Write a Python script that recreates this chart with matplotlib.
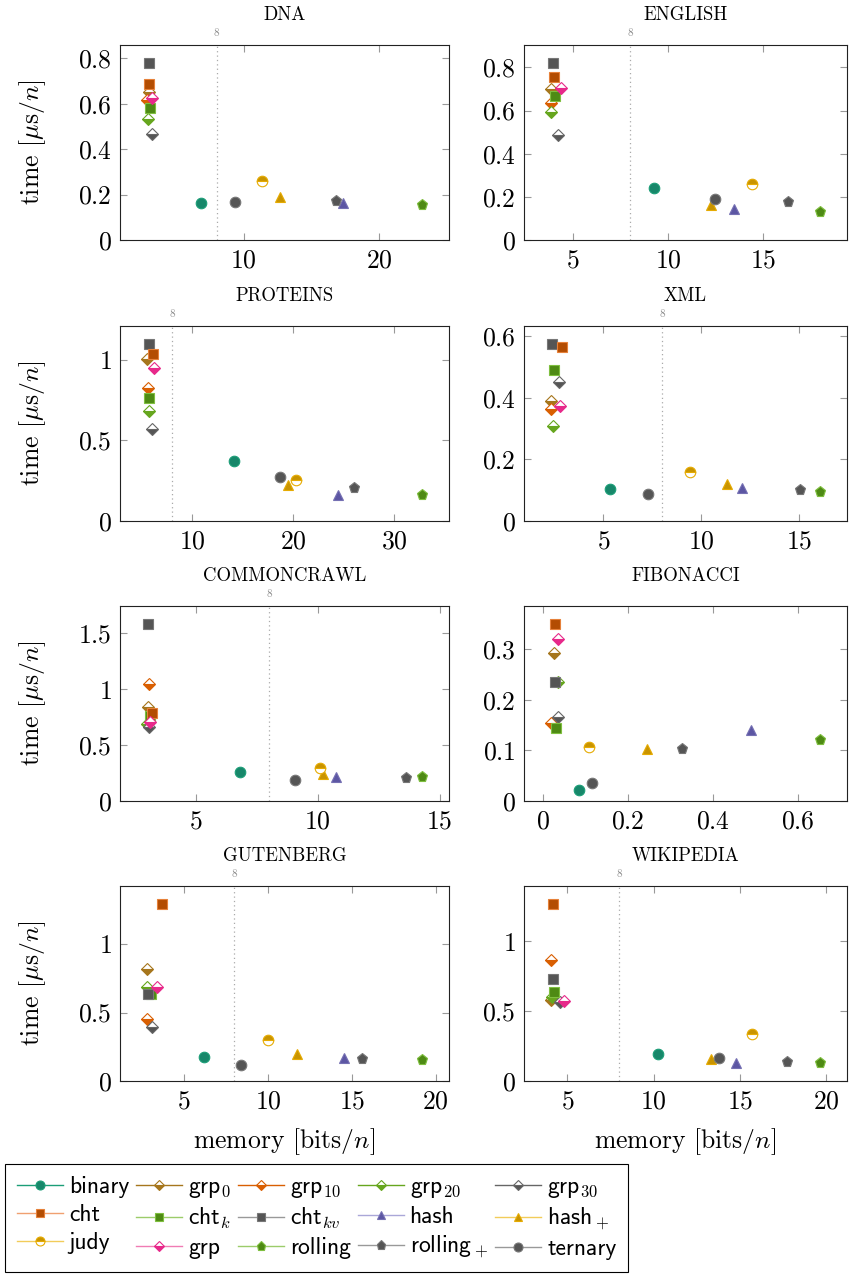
import matplotlib
matplotlib.use("Agg")
import matplotlib.pyplot as plt
from matplotlib.lines import Line2D
from matplotlib.ticker import MultipleLocator, FuncFormatter
import matplotlib.transforms as mtransforms

plt.rcParams["mathtext.fontset"] = "cm"
plt.rcParams["font.family"] = "cmr10"
plt.rcParams["axes.formatter.use_mathtext"] = True

# series order is the same for every dataset below
SERIES = ["binary", "grp0", "grp10", "grp20", "grp30",
          "cht", "chtk", "chtkv", "hash", "hash+",
          "judy", "grp", "rolling", "rolling+", "ternary"]
LABELS = ["binary", "grp$_0$", "grp$_{10}$", "grp$_{20}$", "grp$_{30}$",
          "cht", "cht$_k$", "cht$_{kv}$", "hash", "hash$_+$",
          "judy", "grp", "rolling", "rolling$_+$", "ternary"]

DATASETS = ["DNA", "ENGLISH", "PROTEINS", "XML",
            "COMMONCRAWL", "FIBONACCI", "GUTENBERG", "WIKIPEDIA"]

# memory [bits/n] and time [us/n], one value per series
DNA_X = [6.86, 2.98, 2.88, 2.94, 3.19, 3.01, 3.06, 3.01, 17.35, 12.65, 11.32, 3.20, 23.14, 16.81, 9.36]
DNA_Y = [0.164, 0.650, 0.615, 0.531, 0.465, 0.687, 0.581, 0.781, 0.164, 0.191, 0.258, 0.627, 0.153, 0.170, 0.167]

ENGLISH_X = [9.26, 3.84, 3.84, 3.87, 4.21, 4.01, 4.04, 3.96, 13.48, 12.26, 14.38, 4.38, 17.98, 16.30, 12.45]
ENGLISH_Y = [0.242, 0.700, 0.633, 0.593, 0.485, 0.758, 0.667, 0.822, 0.144, 0.161, 0.261, 0.706, 0.130, 0.178, 0.190]

PROTEINS_X = [14.09, 5.58, 5.68, 5.74, 6.07, 6.17, 5.78, 5.78, 24.44, 19.49, 20.31, 6.24, 32.68, 26.01, 18.67]
PROTEINS_Y = [0.370, 1.004, 0.822, 0.680, 0.568, 1.037, 0.762, 1.099, 0.159, 0.225, 0.252, 0.950, 0.163, 0.202, 0.273]

XML_X = [5.35, 2.33, 2.33, 2.45, 2.72, 2.92, 2.50, 2.38, 12.05, 11.30, 9.40, 2.78, 16.05, 15.05, 7.30]
XML_Y = [0.104, 0.390, 0.363, 0.308, 0.452, 0.566, 0.490, 0.575, 0.107, 0.120, 0.159, 0.373, 0.094, 0.100, 0.088]

COMMONCRAWL_X = [6.80, 3.02, 3.05, 3.00, 3.07, 3.18, 3.10, 3.02, 10.74, 10.20, 10.08, 3.09, 14.26, 13.60, 9.06]
COMMONCRAWL_Y = [0.260, 0.845, 1.045, 0.690, 0.663, 0.790, 0.760, 1.587, 0.214, 0.240, 0.295, 0.708, 0.214, 0.205, 0.190]

FIBONACCI_X = [0.085, 0.027, 0.019, 0.036, 0.036, 0.029, 0.030, 0.029, 0.491, 0.245, 0.108, 0.036, 0.653, 0.327, 0.115]
FIBONACCI_Y = [0.021, 0.293, 0.155, 0.236, 0.167, 0.351, 0.145, 0.236, 0.140, 0.102, 0.106, 0.321, 0.120, 0.102, 0.035]

GUTENBERG_X = [6.18, 2.81, 2.81, 2.81, 3.09, 3.67, 3.01, 2.87, 14.50, 11.75, 10.00, 3.37, 19.15, 15.60, 8.38]
GUTENBERG_Y = [0.174, 0.821, 0.449, 0.686, 0.392, 1.294, 0.637, 0.632, 0.170, 0.200, 0.300, 0.686, 0.150, 0.160, 0.118]

WIKIPEDIA_X = [10.24, 4.05, 4.05, 4.10, 4.58, 4.16, 4.20, 4.15, 14.80, 13.30, 15.70, 4.83, 19.65, 17.76, 13.77]
WIKIPEDIA_Y = [0.190, 0.579, 0.864, 0.600, 0.567, 1.269, 0.638, 0.729, 0.126, 0.155, 0.333, 0.571, 0.126, 0.133, 0.162]

DATA = {
    "DNA": (DNA_X, DNA_Y),
    "ENGLISH": (ENGLISH_X, ENGLISH_Y),
    "PROTEINS": (PROTEINS_X, PROTEINS_Y),
    "XML": (XML_X, XML_Y),
    "COMMONCRAWL": (COMMONCRAWL_X, COMMONCRAWL_Y),
    "FIBONACCI": (FIBONACCI_X, FIBONACCI_Y),
    "GUTENBERG": (GUTENBERG_X, GUTENBERG_Y),
    "WIKIPEDIA": (WIKIPEDIA_X, WIKIPEDIA_Y),
}

# tick steps (x, y) per panel
STEPS = {
    "DNA": (10, 0.2), "ENGLISH": (5, 0.2), "PROTEINS": (10, 0.5), "XML": (5, 0.2),
    "COMMONCRAWL": (5, 0.5), "FIBONACCI": (0.2, 0.1), "GUTENBERG": (5, 0.5), "WIKIPEDIA": (5, 0.5),
}

# marker, fillstyle, face, edge, legend line colour, size
STYLE = {
    "binary":   ("o", "full",   "#17876a", "#1b9e77", "#1b9e77", 7.6),
    "grp0":     ("D", "bottom", "#a6761d", "#a6761d", "#a6761d", 6.0),
    "grp10":    ("D", "bottom", "#d95f02", "#d95f02", "#d95f02", 6.0),
    "grp20":    ("D", "bottom", "#66a61e", "#66a61e", "#66a61e", 6.0),
    "grp30":    ("D", "bottom", "#555555", "#666666", "#666666", 6.0),
    "cht":      ("s", "full",   "#b34d02", "#e6813a", "#f0a070", 7.6),
    "chtk":     ("s", "full",   "#4e8a14", "#7fbf3f", "#9ccc6a", 7.6),
    "chtkv":    ("s", "full",   "#555555", "#777777", "#999999", 7.6),
    "hash":     ("^", "full",   "#5c56a3", "#7570b3", "#aaa7d8", 7.0),
    "hash+":    ("^", "full",   "#c99400", "#e6ab02", "#f2cc5a", 7.0),
    "judy":     ("o", "top",    "#c99400", "#e6ab02", "#f2cc5a", 7.6),
    "grp":      ("D", "bottom", "#e7298a", "#e7298a", "#f07cb4", 6.0),
    "rolling":  ("p", "full",   "#4e8a14", "#7fbf3f", "#9ccc6a", 8.0),
    "rolling+": ("p", "full",   "#555555", "#777777", "#999999", 8.0),
    "ternary":  ("o", "full",   "#555555", "#777777", "#999999", 7.6),
}
DRAW_ORDER = ["binary", "grp0", "grp10", "grp20", "grp30", "chtk", "chtkv", "cht",
              "hash", "hash+", "judy", "grp", "rolling", "rolling+", "ternary"]

FIG_W, FIG_H = 851, 1275
COL_X = [120, 524]
COL_W = [329, 323]
ROW_TOP = [45, 326, 606, 886]
ROW_H = 195


def marker_kw(name, scale=1.0):
    m, fs, face, edge, _, ms = STYLE[name]
    return dict(marker=m, fillstyle=fs, markerfacecolor=face, markerfacecoloralt="white",
                markeredgecolor=edge, markeredgewidth=0.8, markersize=ms * scale)


def fmt(v, _):
    return f"${v:g}$"


def draw_panel(fig, name, row, col):
    x0 = COL_X[col] / FIG_W
    y0 = (FIG_H - ROW_TOP[row] - ROW_H) / FIG_H
    ax = fig.add_axes([x0, y0, COL_W[col] / FIG_W, ROW_H / FIG_H])
    xs, ys = DATA[name]
    for s in DRAW_ORDER:
        i = SERIES.index(s)
        ax.plot([xs[i]], [ys[i]], linestyle="none", zorder=3, **marker_kw(s))

    # pgfplots-like limits: 10% enlargement, y starts at 0
    lo, hi = min(xs), max(xs)
    pad = 0.1 * (hi - lo)
    ax.set_xlim(lo - pad, hi + pad)
    ax.set_ylim(0, max(ys) * 1.1)

    if lo - pad < 8 < hi + pad:
        ax.axvline(8, color="#aaaaaa", linestyle=(0, (1, 2.5)), linewidth=0.9, zorder=1)
        trans = mtransforms.blended_transform_factory(ax.transData, ax.transAxes)
        ax.text(8, 1 + 9 / ROW_H, "8", transform=trans, ha="center", va="baseline",
                fontsize=8, color="#888888")

    ax.text(0.5, 1 + 25 / ROW_H, name, transform=ax.transAxes, ha="center",
            va="baseline", fontsize=13.5)

    xs_step, ys_step = STEPS[name]
    ax.xaxis.set_major_locator(MultipleLocator(xs_step))
    ax.yaxis.set_major_locator(MultipleLocator(ys_step))
    ax.xaxis.set_major_formatter(FuncFormatter(fmt))
    ax.yaxis.set_major_formatter(FuncFormatter(fmt))
    ax.tick_params(direction="in", top=True, right=True, length=5, width=0.8,
                   color="#999999", labelsize=18.5)
    ax.tick_params(axis="x", pad=6)
    ax.tick_params(axis="y", pad=6)
    for sp in ax.spines.values():
        sp.set_linewidth(0.8)
        sp.set_color("#222222")

    if col == 0:
        ax.set_ylabel(r"time $[\mu\mathrm{s}/n]$", fontsize=18.5)
        ax.yaxis.set_label_coords(-0.22, 0.5)
    if row == 3:
        ax.set_xlabel(r"memory $[\mathrm{bits}/n]$", fontsize=18.5)
        ax.xaxis.set_label_coords(0.5, -0.23)
    return ax


fig = plt.figure(figsize=(FIG_W / 100, FIG_H / 100), dpi=100)
for k, name in enumerate(DATASETS):
    draw_panel(fig, name, k // 2, k % 2)

handles = []
for s in SERIES:
    kw = marker_kw(s, 0.85)
    handles.append(Line2D([0], [0], color=STYLE[s][4], linewidth=1.0, **kw))

# matplotlib fills legend columns first; reorder so rows read like the reference
order = [r * 5 + c for c in range(5) for r in range(3)]
leg = fig.legend([handles[i] for i in order], [LABELS[i] for i in order],
                 loc="lower left", bbox_to_anchor=(5 / FIG_W, 3 / FIG_H), ncol=5,
                 frameon=True, fancybox=False, edgecolor="black", framealpha=1,
                 borderaxespad=0, prop={"family": "cmss10", "size": 17},
                 handlelength=1.95, handletextpad=0.25, columnspacing=0.3,
                 labelspacing=0.25, borderpad=0.5)
leg.get_frame().set_linewidth(0.8)

fig.savefig("out.png", dpi=100)
